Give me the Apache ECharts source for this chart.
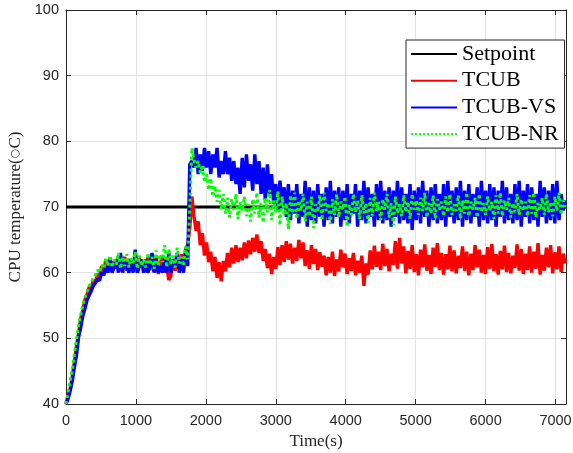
<!DOCTYPE html>
<html>
<head>
<meta charset="utf-8">
<title>CPU temperature</title>
<script src="https://cdn.jsdelivr.net/npm/echarts@6/dist/echarts.min.js"></script>
<style>
  html, body { margin: 0; padding: 0; background: #fff; }
  #chart { width: 573px; height: 453px; }
</style>
</head>
<body>
<div id="chart"></div>
<script>
// Sampling interval of the logged temperatures, in seconds
const SAMPLE_STEP = 30;
const X_MAX = 7150;

const seriesNames = ['Setpoint', 'TCUB', 'TCUB-VS', 'TCUB-NR'];
const xTicks = [0, 1000, 2000, 3000, 4000, 5000, 6000, 7000];
const yTicks = [40, 50, 60, 70, 80, 90, 100];

// Reference temperature
const setpointTimes = [0, 7150];
const setpointValues = [70, 70];

// TCUB controller (°C, one value every SAMPLE_STEP seconds)
const tcub = [
  40.0, 41.4, 42.3, 44.2, 46.4, 48.9, 50.8, 53.0, 54.3, 55.9,
  56.6, 57.8, 57.6, 58.9, 58.5, 59.8, 59.3, 61.0, 60.2, 62.0,
  60.4, 62.3, 60.1, 61.8, 60.6, 62.6, 60.2, 61.5, 62.4, 60.3,
  62.1, 60.5, 61.2, 62.7, 60.0, 62.2, 60.8, 61.6, 60.1, 62.5,
  60.4, 61.9, 60.2, 62.3, 59.8, 61.4, 62.6, 60.0, 61.0, 58.9,
  59.5, 62.1, 60.3, 61.7, 60.6, 62.8, 60.9, 63.6, 64.2, 66.8,
  71.6, 68.6, 66.4, 67.8, 64.2, 66.0, 62.6, 64.6, 61.6, 63.2,
  60.2, 62.4, 59.2, 61.6, 58.7, 61.8, 60.2, 63.0, 60.8, 63.8,
  61.4, 64.2, 61.6, 63.8, 61.9, 64.6, 62.2, 64.9, 62.8, 65.3,
  63.2, 65.8, 63.0, 64.8, 61.8, 63.6, 60.7, 62.9, 59.8, 62.4,
  60.6, 63.9, 61.2, 64.2, 61.6, 64.8, 62.0, 64.4, 61.4, 63.8,
  61.8, 65.0, 62.2, 64.6, 61.0, 63.4, 60.6, 64.2, 61.3, 63.6,
  60.4, 63.1, 60.9, 62.6, 59.6, 62.4, 60.0, 63.2, 59.5, 62.0,
  60.2, 63.5, 60.8, 62.9, 59.8, 62.2, 60.3, 63.0, 59.6, 61.8,
  60.0, 62.6, 58.0, 61.4, 59.7, 63.4, 60.5, 64.1, 60.9, 63.2,
  60.4, 64.4, 61.0, 63.6, 60.2, 62.9, 61.2, 64.8, 60.6, 65.3,
  61.4, 64.0, 59.9, 63.3, 60.6, 64.2, 60.1, 62.8, 59.6, 63.5,
  60.8, 64.3, 60.3, 62.7, 59.8, 63.8, 60.9, 64.5, 60.4, 63.0,
  59.7, 62.8, 60.5, 64.1, 60.2, 63.4, 59.9, 62.6, 60.7, 64.0,
  60.3, 63.2, 59.6, 62.9, 60.4, 64.2, 60.8, 63.5, 60.0, 62.7,
  59.8, 63.9, 60.6, 64.4, 60.2, 62.8, 59.7, 63.3, 60.5, 64.1,
  60.1, 63.0, 59.9, 62.6, 60.7, 64.3, 60.3, 63.6, 59.8, 62.9,
  60.4, 64.0, 60.0, 63.2, 60.6, 64.5, 59.7, 62.7, 60.3, 63.8,
  60.8, 64.2, 59.9, 63.1, 60.5, 64.0, 60.1, 62.9, 61.4
];

// TCUB-VS controller
const tcubVs = [
  40.0, 40.8, 42.0, 43.5, 45.6, 47.4, 50.2, 51.6, 53.4, 54.5,
  55.8, 56.5, 57.2, 58.0, 58.4, 59.0, 58.8, 60.0, 59.6, 61.0,
  60.0, 62.0, 60.0, 61.0, 62.0, 60.0, 63.0, 60.0, 62.0, 61.0,
  60.0, 62.0, 60.0, 63.5, 60.0, 61.0, 62.0, 60.0, 62.0, 60.0,
  61.0, 63.0, 60.0, 62.0, 60.0, 61.0, 60.0, 62.0, 60.0, 63.0,
  60.0, 62.0, 61.0, 63.0, 60.0, 62.0, 60.0, 63.0, 61.0, 76.5,
  77.0, 76.0, 79.0, 75.0, 78.0, 75.5, 79.0, 76.0, 78.5, 75.0,
  78.0, 76.0, 79.0, 74.5, 77.0, 75.0, 78.5, 75.0, 77.5, 74.0,
  77.0, 73.5, 76.0, 72.0, 77.5, 73.0, 78.0, 74.0, 76.5, 72.5,
  78.0, 73.5, 77.0, 72.0, 76.0, 71.0, 76.5, 72.0, 75.0, 70.5,
  73.5, 69.5, 74.0, 70.0, 73.0, 68.5, 73.5, 68.0, 72.5, 69.0,
  73.5, 67.5, 72.0, 68.5, 74.0, 67.0, 73.0, 68.0, 72.5, 67.5,
  73.5, 68.5, 72.0, 67.0, 73.0, 68.0, 74.0, 67.5, 72.5, 68.5,
  73.0, 67.0, 72.5, 68.0, 73.5, 67.5, 72.0, 69.0, 73.5, 67.0,
  72.5, 68.0, 74.0, 67.5, 73.0, 68.5, 72.0, 67.0, 73.5, 68.0,
  74.0, 67.5, 72.5, 68.0, 73.0, 67.0, 72.5, 68.5, 74.0, 67.5,
  73.0, 68.0, 72.0, 67.5, 73.5, 66.5, 72.5, 68.0, 73.0, 67.5,
  74.0, 68.5, 72.5, 67.0, 73.0, 68.0, 73.5, 67.5, 72.0, 68.0,
  73.5, 67.0, 74.0, 68.5, 72.5, 67.5, 73.0, 68.0, 74.0, 67.0,
  72.5, 68.0, 73.5, 67.5, 72.0, 68.5, 73.0, 67.0, 74.0, 68.0,
  72.5, 67.5, 73.5, 68.0, 73.0, 67.0, 72.5, 68.5, 74.0, 67.5,
  73.0, 68.0, 72.0, 67.5, 73.5, 68.0, 74.0, 67.0, 72.5, 68.5,
  73.5, 67.5, 73.0, 68.0, 72.0, 67.0, 74.0, 68.5, 73.0, 67.5,
  72.5, 68.0, 73.5, 67.5, 74.0, 68.0, 72.0, 69.5, 71.0
];

// TCUB-NR controller
const tcubNr = [
  40.0, 41.8, 43.6, 45.2, 47.6, 49.8, 52.0, 53.6, 55.0, 56.2,
  57.0, 58.0, 58.4, 59.2, 59.6, 60.4, 60.0, 61.2, 60.6, 62.2,
  61.0, 62.6, 60.8, 62.0, 61.2, 63.0, 60.6, 62.4, 61.0, 62.8,
  60.8, 62.2, 61.4, 63.2, 60.6, 62.6, 61.0, 62.0, 60.8, 63.0,
  61.2, 62.4, 60.6, 63.4, 61.0, 62.8, 61.6, 64.2, 60.8, 63.6,
  61.2, 62.6, 60.8, 63.8, 61.4, 62.4, 61.0, 64.0, 62.0, 70.0,
  79.0, 77.2, 76.0, 77.0, 75.2, 76.4, 73.8, 75.0, 72.6, 74.4,
  71.6, 73.2, 70.8, 72.6, 69.6, 72.0, 69.0, 71.4, 68.4, 71.2,
  69.6, 72.0, 68.2, 70.8, 69.4, 71.6, 68.6, 70.4, 67.8, 71.2,
  69.0, 72.2, 68.4, 70.6, 67.6, 71.4, 69.2, 72.6, 68.0, 71.0,
  69.2, 72.4, 67.2, 71.6, 68.8, 70.6, 66.6, 71.8, 69.0, 72.2,
  68.2, 71.0, 69.4, 72.0, 67.8, 70.8, 68.6, 71.6, 66.8, 70.4,
  69.2, 71.8, 68.0, 72.2, 69.4, 70.6, 67.4, 71.2, 68.8, 72.0,
  68.4, 70.8, 69.6, 71.6, 67.0, 70.4, 68.8, 72.0, 69.2, 71.0,
  68.2, 71.8, 69.0, 70.6, 67.6, 71.4, 68.6, 72.2, 69.4, 70.8,
  68.0, 71.2, 69.6, 72.0, 68.4, 70.6, 67.2, 71.6, 69.0, 70.4,
  68.6, 71.8, 69.2, 70.8, 68.2, 72.0, 69.6, 71.0, 68.8, 71.4,
  69.4, 72.2, 68.4, 70.6, 69.0, 71.8, 68.2, 71.2, 69.6, 70.8,
  68.6, 71.6, 69.2, 72.0, 68.8, 70.4, 69.4, 71.8, 68.2, 71.0,
  69.0, 72.2, 68.6, 70.8, 69.6, 71.4, 68.4, 72.0, 69.2, 70.6,
  68.8, 71.6, 69.4, 70.8, 68.2, 71.8, 69.0, 72.2, 68.6, 71.0,
  69.6, 71.4, 68.4, 70.6, 69.2, 72.0, 68.8, 71.2, 69.4, 70.8,
  68.6, 71.8, 69.0, 72.2, 68.4, 70.6, 69.6, 71.4, 68.8, 72.0,
  69.2, 70.8, 68.6, 71.6, 69.4, 72.2, 68.8, 71.0, 70.0
];

// Pair each sample with its timestamp
function withTime(values) {
  return values.map((v, i) => [i * SAMPLE_STEP, v]);
}

const AXIS_COLOR = '#262626';
const GRID_COLOR = '#e3e3e3';
const SANS = '"Liberation Sans", Arial, sans-serif';
const SERIF = '"Liberation Serif", "DejaVu Serif", serif';

const tickLabel = { color: AXIS_COLOR, fontFamily: SANS, fontSize: 14.5, formatter: (v) => String(v) };

const chart = echarts.init(document.getElementById('chart'), null, { renderer: 'canvas' });

chart.setOption({
  animation: false,
  backgroundColor: '#fff',
  grid: { left: 66, right: 7, top: 10, bottom: 49, containLabel: false, outerBoundsMode: 'none' },
  xAxis: [
    {
      type: 'value', min: 0, max: X_MAX, interval: xTicks[1] - xTicks[0],
      name: 'Time(s)', nameLocation: 'middle', nameGap: 26,
      nameTextStyle: { color: AXIS_COLOR, fontFamily: SERIF, fontSize: 17 },
      axisLine: { show: true, onZero: false, lineStyle: { color: AXIS_COLOR, width: 1 } },
      axisTick: { show: true, inside: true, length: 5, lineStyle: { color: AXIS_COLOR } },
      axisLabel: Object.assign({ margin: 9, showMaxLabel: false }, tickLabel),
      splitLine: { show: true, lineStyle: { color: GRID_COLOR, width: 1 } }
    },
    {
      type: 'value', position: 'top', min: 0, max: X_MAX, interval: xTicks[1] - xTicks[0],
      axisLine: { show: true, onZero: false, lineStyle: { color: AXIS_COLOR, width: 1 } },
      axisTick: { show: true, inside: true, length: 5, lineStyle: { color: AXIS_COLOR } },
      axisLabel: { show: false },
      splitLine: { show: false }
    }
  ],
  yAxis: [
    {
      type: 'value', min: yTicks[0], max: yTicks[yTicks.length - 1], interval: yTicks[1] - yTicks[0],
      name: 'CPU temperature({deg|\u25CB}C)', nameLocation: 'middle', nameGap: 38, nameRotate: 90,
      nameTextStyle: {
        color: AXIS_COLOR, fontFamily: SERIF, fontSize: 17,
        rich: { deg: { color: AXIS_COLOR, fontFamily: '"DejaVu Sans", sans-serif', fontSize: 11 } }
      },
      axisLine: { show: true, onZero: false, lineStyle: { color: AXIS_COLOR, width: 1 } },
      axisTick: { show: true, inside: true, length: 5, lineStyle: { color: AXIS_COLOR } },
      axisLabel: Object.assign({ margin: 7 }, tickLabel),
      splitLine: { show: true, lineStyle: { color: GRID_COLOR, width: 1 } }
    },
    {
      type: 'value', position: 'right', min: yTicks[0], max: yTicks[yTicks.length - 1], interval: yTicks[1] - yTicks[0],
      axisLine: { show: true, onZero: false, lineStyle: { color: AXIS_COLOR, width: 1 } },
      axisTick: { show: true, inside: true, length: 5, lineStyle: { color: AXIS_COLOR } },
      axisLabel: { show: false },
      splitLine: { show: false }
    }
  ],
  legend: {
    orient: 'vertical',
    left: 406, top: 40,
    padding: [3, 6, 3, 4],
    itemWidth: 46, itemHeight: 14, itemGap: 4.7,
    backgroundColor: '#fff',
    borderColor: AXIS_COLOR, borderWidth: 1, borderRadius: 0,
    itemStyle: { opacity: 0 },
    textStyle: { color: '#000', fontFamily: SERIF, fontSize: 22 },
    data: seriesNames
  },
  series: [
    {
      name: seriesNames[0], type: 'line', symbol: 'none', showSymbol: false,
      data: setpointTimes.map((t, i) => [t, setpointValues[i]]),
      lineStyle: { color: '#000', width: 3 }, itemStyle: { color: '#000' }, z: 2
    },
    {
      name: seriesNames[1], type: 'line', symbol: 'none', showSymbol: false,
      data: withTime(tcub),
      lineStyle: { color: '#ff0000', width: 3.4 }, itemStyle: { color: '#ff0000' }, z: 3
    },
    {
      name: seriesNames[2], type: 'line', symbol: 'none', showSymbol: false,
      data: withTime(tcubVs),
      lineStyle: { color: '#0000ff', width: 3.4 }, itemStyle: { color: '#0000ff' }, z: 4
    },
    {
      name: seriesNames[3], type: 'line', symbol: 'none', showSymbol: false,
      data: withTime(tcubNr),
      lineStyle: { color: '#00ff00', width: 3, type: 'dotted' }, itemStyle: { color: '#00ff00' }, z: 5
    }
  ]
});
</script>
</body>
</html>
